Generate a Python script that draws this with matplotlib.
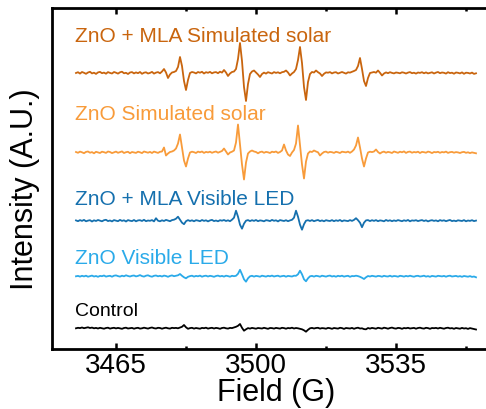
import numpy as np
import matplotlib
matplotlib.use("Agg")
import matplotlib.pyplot as plt

# Field axis (G): sampled every 0.5 G from 3455 to 3555
field = np.arange(3455.0, 3555.01, 0.5)

# Traces (signal relative to each trace's baseline, arbitrary units)
mla_solar = [
    0.0, 0.8, -0.6, 1.0, 0.2, -0.8, 0.5, 1.2, -0.4, 0.3,
    -0.9, 0.6, 1.1, -0.2, 0.4, -0.7, 0.9, 0.1, -0.5, 1.0,
    0.3, -0.6, 0.7, 1.3, -0.3, 0.2, -1.0, 0.5, 0.9, -0.4,
    0.6, -0.2, 1.0, -0.8, 0.3, 0.7, -0.5, 0.1, 1.1, -0.6,
    0.4, 0.9, -0.3, 1.5, 4.0, 0.5, -5.0, -1.5, 0.5, 1.0,
    2.0, 6.0, 16.0, 7.0, -8.0, -17.0, -7.0, 0.0, 1.0, 0.5,
    -0.4, 1.0, 0.3, 1.2, -0.5, 0.8, 0.2, 1.1, -0.3, 0.6,
    0.9, -0.2, 1.3, 0.4, 3.0, 0.5, -3.0, -0.5, 1.0, 1.5,
    4.0, 14.0, 30.0, 12.0, -14.0, -28.0, -11.0, -1.0, 1.5, 2.5,
    0.5, -1.5, -4.0, -1.0, 0.4, -0.6, 0.8, 0.2, -0.5, 0.9,
    0.1, 0.7, -0.3, 0.8, 1.2, 2.5, 0.5, -2.5, -0.5, 1.0,
    4.0, 13.0, 26.0, 10.0, -14.0, -27.0, -9.0, -1.0, 1.0, 0.5,
    2.5, 0.8, -0.5, -3.0, -0.8, 0.6, 0.3, 0.9, -0.4, 0.5,
    0.8, -0.5, 0.3, 1.0, 0.2, -0.6, 0.7, 0.4, 1.2, 2.0,
    3.0, 7.0, 15.0, 4.0, -8.0, -13.0, -5.0, 0.0, 0.5, 1.0,
    0.3, 2.5, 0.2, -2.5, -0.5, 0.6, -0.2, 0.8, 0.1, -0.4,
    0.5, 0.2, -0.3, 0.7, 0.3, -0.5, 0.4, 0.9, -0.2, 0.3,
    -0.6, 0.5, 0.1, 0.8, -0.3, 0.6, -0.4, 0.2, 0.7, -0.5,
    0.4, 1.0, -0.2, 0.5, 0.2, -0.6, 0.8, -0.1, 0.3, -0.7,
    0.5, 0.2, -0.4, 0.6, -0.8, 0.3, 0.1, -0.5, 0.4, -0.9,
    -0.3,
]
zno_solar = [
    0.5, -0.3, 0.9, 0.2, -0.7, 0.6, 1.0, -0.2, 0.4, -0.8,
    0.7, 0.1, -0.5, 0.8, 0.3, -0.4, 1.0, 0.5, -0.6, 0.2,
    0.9, -0.3, 0.4, 1.1, -0.5, 0.3, 0.7, -0.7, 0.5, 0.1,
    -0.4, 0.8, 0.2, -0.6, 1.0, 0.4, -0.2, 0.6, -0.5, 0.9,
    0.3, -0.4, 0.7, 1.0, 5.0, -3.0, -1.0, 0.5, 1.0, 2.0,
    4.0, 9.0, 18.0, 5.0, -8.0, -14.0, -6.0, 0.0, 0.8, 0.3,
    -0.5, 0.9, 0.2, 1.0, -0.4, 0.6, 0.1, 0.8, -0.3, 0.5,
    1.0, -0.2, 0.6, 1.5, 4.0, 1.0, -2.0, 0.0, 0.8, 2.0,
    10.0, 28.0, 8.0, -12.0, -27.0, -10.0, -1.0, 1.0, 2.0, 1.0,
    0.5, -0.8, 0.4, 0.9, -0.3, 0.6, 0.2, -0.5, 0.8, 0.3,
    1.0, -0.4, 0.5, 2.0, 8.0, 2.0, -2.0, -3.5, 0.0, 2.5,
    9.0, 27.0, 8.0, -12.0, -26.0, -9.0, -1.0, 1.0, 0.5, 2.0,
    1.0, 0.2, -3.0, -1.0, 0.5, 0.9, -0.2, 0.6, 0.3, -0.4,
    0.7, 0.2, -0.5, 0.8, 0.4, 0.1, 0.9, -0.3, 1.0, 3.0,
    7.0, 15.0, 5.0, -6.0, -14.0, -6.0, 0.0, 0.8, 0.4, 1.0,
    3.0, 0.5, -1.0, 0.3, 0.9, -0.2, 0.6, 0.2, -0.5, 1.0,
    0.4, -0.3, 0.8, 0.2, 1.1, -0.4, 0.6, 0.9, -0.2, 0.5,
    0.1, 0.8, -0.5, 0.6, 0.3, -0.2, 0.9, 0.4, -0.6, 0.5,
    0.2, 0.7, -0.3, 0.5, 0.1, 0.9, -0.4, 0.3, 0.6, -0.2,
    0.4, 0.1, -0.5, 0.3, 0.6, -0.3, 0.2, -0.6, 0.1, -0.4,
    -0.8,
]
mla_led = [
    0.3, -0.5, 0.6, -0.2, 0.8, -0.6, 0.1, 0.5, -0.8, 0.4,
    -0.3, 0.7, 0.0, -0.6, 0.5, 0.9, -0.4, 0.2, -0.7, 0.6,
    0.1, -0.5, 0.8, -0.2, 0.4, -0.8, 0.6, 0.0, -0.4, 0.7,
    -0.6, 0.3, 0.5, -0.3, 0.9, -0.5, 0.2, -0.1, 0.6, -0.7,
    2.5, 0.0, -0.6, 0.4, -0.3, 0.8, 0.1, -0.5, 0.6, 1.0,
    2.0, 4.0, 1.0, -2.0, -3.5, -0.5, 0.6, -0.3, 0.4, -0.6,
    0.5, 0.1, -0.5, 0.7, -0.2, 0.4, -0.7, 0.3, 0.8, -0.4,
    0.2, -0.6, 0.5, 0.0, 0.7, -0.3, 0.4, -0.5, 1.0, 3.0,
    10.0, 4.0, -4.0, -8.0, -3.0, 0.0, 0.6, -0.4, 0.5, -0.2,
    0.7, -0.5, 0.3, 0.0, -0.6, 0.5, 0.2, -0.4, 0.8, -0.1,
    0.4, -0.7, 0.6, 0.1, -0.3, 0.5, -0.5, 0.3, 0.9, 3.0,
    10.0, 4.0, -4.0, -9.0, -3.5, 0.0, 0.5, -0.3, 0.6, -0.5,
    0.2, 0.7, -0.4, 0.3, -0.6, 0.5, 0.0, -0.3, 0.6, -0.5,
    0.4, -0.2, 0.7, -0.6, 0.3, 0.0, -0.4, 0.6, -0.2, 0.8,
    2.5, 0.5, -2.0, -6.5, -2.0, 0.3, 0.6, -0.4, 0.5, -0.2,
    0.6, -0.5, 0.3, 0.0, -0.6, 0.7, -0.2, 0.4, -0.5, 0.3,
    -0.3, 0.6, 0.1, -0.5, 0.4, -0.2, 0.7, -0.6, 0.3, 0.0,
    0.5, -0.4, 0.2, 0.6, -0.3, 0.4, -0.7, 0.1, 0.5, -0.2,
    0.3, -0.6, 0.6, -0.1, 0.4, -0.5, 0.2, 0.7, -0.4, 0.1,
    -0.5, 0.4, 0.0, -0.3, 0.6, -0.6, 0.2, -0.2, 0.5, -0.4,
    0.1,
]
zno_led = [
    0.0, 0.4, -0.3, 0.5, -0.1, 0.6, -0.4, 0.2, 0.7, -0.2,
    0.3, -0.5, 0.4, 0.1, 0.8, -0.3, 0.2, 0.5, -0.4, 0.6,
    0.9, 0.2, -0.3, 0.6, 0.0, 1.0, 0.3, -0.2, 0.5, 0.8,
    -0.1, 0.4, 1.2, 0.2, -0.3, 0.6, 1.0, 0.1, -0.4, 0.5,
    0.8, 0.0, 0.5, -0.2, 0.7, 0.3, -0.5, 0.4, 0.9, 0.1,
    0.6, 1.0, 2.3, 0.5, -1.0, -2.0, -0.5, 0.2, 0.6, -0.3,
    0.4, 0.0, 0.7, -0.4, 0.3, 0.6, -0.2, 0.5, 0.1, -0.5,
    0.3, 0.7, -0.1, 0.4, -0.3, 0.6, 0.2, -0.4, 0.5, 0.1,
    0.5, 2.5, 6.5, 2.0, -3.0, -5.4, -2.0, 0.0, 0.5, -0.3,
    0.4, 0.1, -0.4, 0.6, 0.2, -0.3, 0.5, 0.0, 0.7, -0.2,
    0.3, 0.6, -0.3, 0.2, 0.5, -0.4, 0.4, 0.1, -0.2, 0.6,
    0.5, 2.0, 5.6, 2.0, -3.0, -5.0, -2.0, 0.0, 0.4, -0.3,
    0.5, 0.2, -0.4, 0.6, 0.1, -0.3, 0.4, 0.7, -0.2, 0.3,
    -0.4, 0.5, 0.0, 0.6, -0.3, 0.2, 0.5, -0.5, 0.3, 0.1,
    0.6, 0.2, -0.5, -1.5, -2.7, -1.0, 0.3, -0.2, 0.5, 0.1,
    -0.3, 0.4, 0.2, -0.4, 0.5, 0.0, -0.2, 0.6, -0.3, 0.3,
    0.1, -0.4, 0.5, 0.2, -0.3, 0.4, -0.1, 0.6, 0.0, -0.4,
    0.3, 0.5, -0.2, 0.1, 0.6, -0.3, 0.2, -0.5, 0.4, 0.0,
    -0.3, 0.5, 0.2, -0.1, 0.4, -0.4, 0.3, 0.6, -0.2, 0.1,
    0.4, -0.3, 0.2, -0.5, 0.3, 0.0, -0.4, 0.2, -0.6, -0.2,
    -1.0,
]
control = [
    0.0, 0.5, 0.2, 0.8, 0.1, 0.6, 1.0, 0.3, 0.7, 0.0,
    0.4, -0.2, 0.5, 0.1, -0.4, 0.3, 0.6, -0.3, 0.2, 0.5,
    -0.1, 0.4, 0.0, -0.5, 0.3, 0.6, -0.2, 0.1, 0.4, -0.4,
    0.2, 0.5, -0.3, 0.0, 0.6, 0.2, -0.3, 0.4, 0.8, 0.1,
    -0.2, 0.5, 0.3, -0.4, 0.2, 0.6, 0.0, -0.3, 0.5, 0.2,
    0.4, 0.0, 0.8, 1.5, 3.3, 1.0, -0.5, 0.2, 0.5, -0.3,
    0.3, 0.0, -0.4, 0.4, 0.1, 0.6, -0.3, 0.2, 0.5, -0.2,
    0.4, 0.1, -0.5, 0.3, 0.6, 0.0, -0.3, 0.4, 0.2, 0.8,
    1.5, 2.5, 4.3, 0.5, -2.4, -1.0, 0.2, -0.3, 0.4, 0.0,
    -0.4, 0.3, 0.1, -0.2, 0.5, 0.0, -0.5, 0.3, 0.2, -0.3,
    0.4, 0.1, -0.3, 0.5, 0.2, -0.4, 0.3, 0.0, 0.6, -0.2,
    0.3, 0.0, -0.5, -1.0, -2.0, -3.4, -1.5, 0.0, 0.4, -0.2,
    0.3, 0.5, -0.3, 0.2, 0.0, -0.4, 0.4, 0.1, -0.5, 0.3,
    0.0, -0.3, 0.5, 0.2, -0.6, 0.3, 0.0, -0.2, 0.4, -0.5,
    0.2, 0.6, -0.2, 0.0, -0.8, -1.0, 0.3, -0.3, 0.4, 0.0,
    -0.4, 0.5, 0.1, -0.3, 0.6, 0.2, -0.4, 0.3, 0.7, 0.0,
    -0.3, 0.4, 0.2, -0.5, 0.3, 0.0, 0.5, -0.2, 0.1, 0.4,
    -0.4, 0.3, 0.6, 0.0, -0.3, 0.5, 0.2, -0.5, 0.3, 0.1,
    0.4, -0.2, 0.5, 0.0, -0.4, 0.3, 0.6, -0.1, 0.2, -0.5,
    0.3, 0.0, -0.4, 0.4, -0.2, 0.1, -0.6, 0.2, -0.3, -0.8,
    -1.2,
]

labels = ["ZnO + MLA Simulated solar", "ZnO Simulated solar",
          "ZnO + MLA Visible LED", "ZnO Visible LED", "Control"]
series = [mla_solar, zno_solar, mla_led, zno_led, control]
offsets = [276.0, 196.5, 128.3, 72.7, 20.7]
label_y = [308.5, 230.0, 145.0, 86.0, 34.0]
label_size = [15, 15, 15, 15, 14]
colors = ["#C9650E", "#F89B3A", "#1570AE", "#2AAAE9", "#000000"]

xticks = [3465, 3500, 3535]
minor_xticks = [3482.5, 3517.5, 3552.5]

plt.rcParams['font.family'] = ['Liberation Sans', 'DejaVu Sans']

fig = plt.figure(figsize=(4.86, 4.10), dpi=100)
ax = fig.add_axes([52 / 486, 60 / 410, 436 / 486, 341 / 410])

for ys, off, c, lab, ly, fs in zip(series, offsets, colors, labels, label_y, label_size):
    ax.plot(field, np.asarray(ys) + off, color=c, lw=1.3)
    ax.text(3454.8, ly, lab, color=c, fontsize=fs, ha='left', va='baseline')

ax.set_xlim(3449, 3558)
ax.set_ylim(0, 341)
ax.set_xticks(xticks)
ax.set_xticks(minor_xticks, minor=True)
ax.set_xticklabels([str(t) for t in xticks])
ax.set_yticks([])
ax.tick_params(axis='x', which='both', direction='in', top=True, bottom=True,
               width=1.8, labelsize=20, pad=2)
ax.tick_params(axis='x', which='major', length=4.5)
ax.tick_params(axis='x', which='minor', length=2.5)
for s in ax.spines.values():
    s.set_linewidth(2.0)
ax.spines['right'].set_visible(False)

ax.set_xlabel("Field (G)", fontsize=22, va='baseline')
ax.xaxis.set_label_coords(224 / 436, -51 / 341)
ax.set_ylabel("Intensity (A.U.)", fontsize=22, va='center')
ax.yaxis.set_label_coords(-27 / 436, 161 / 341)

fig.savefig("out.png", dpi=100)
